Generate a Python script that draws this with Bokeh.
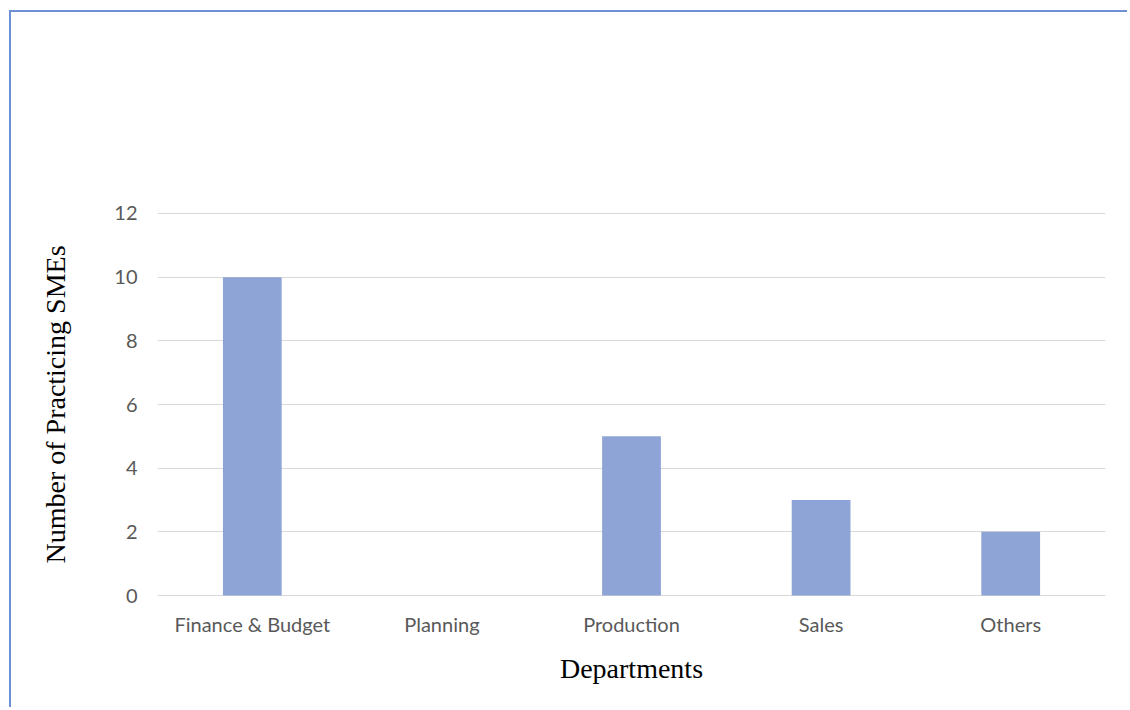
from bokeh.plotting import figure
from bokeh.models import Range1d, FactorRange
from bokeh.embed import file_html
from bokeh.resources import INLINE

departments = ["Finance & Budget", "Planning", "Production", "Sales", "Others"]
counts = [10, 0, 5, 3, 2]
y_ticks = [0, 2, 4, 6, 8, 10, 12]

p = figure(x_range=FactorRange(*departments), y_range=Range1d(-0.03, 12.03),
           width=1118, height=697, output_backend="svg", toolbar_location=None,
           min_border_left=146, min_border_right=24, min_border_top=200, min_border_bottom=113)
p.x_range.range_padding = 0
p.vbar(x=departments, top=counts, width=0.31, color="#8fa4d6", line_color=None)

p.outline_line_color = None
p.xgrid.grid_line_color = None
p.ygrid.grid_line_color = "#d9d9d9"
p.ygrid.grid_line_width = 1
p.yaxis.ticker = y_ticks

for ax in (p.xaxis, p.yaxis):
    ax.axis_line_color = None
    ax.major_tick_line_color = None
    ax.minor_tick_line_color = None
    ax.major_label_text_font = "Lato"
    ax.major_label_text_font_size = "20px"
    ax.major_label_text_color = "#595959"
    ax.axis_label_text_font = "Liberation Serif"
    ax.axis_label_text_font_size = "28px"
    ax.axis_label_text_font_style = "normal"
    ax.axis_label_text_color = "#000000"

p.yaxis.major_label_standoff = 14
p.xaxis.major_label_standoff = 9
p.yaxis.axis_label = "Number of Practicing SMEs"
p.xaxis.axis_label = "Departments"
p.yaxis.axis_label_standoff = 40
p.xaxis.axis_label_standoff = 14

p.styles = {"margin-left": "9px", "margin-top": "10px",
            "border-left": "2px solid #7090d6", "border-top": "2px solid #7090d6"}

open("out.html", "w").write(file_html(p, INLINE))
